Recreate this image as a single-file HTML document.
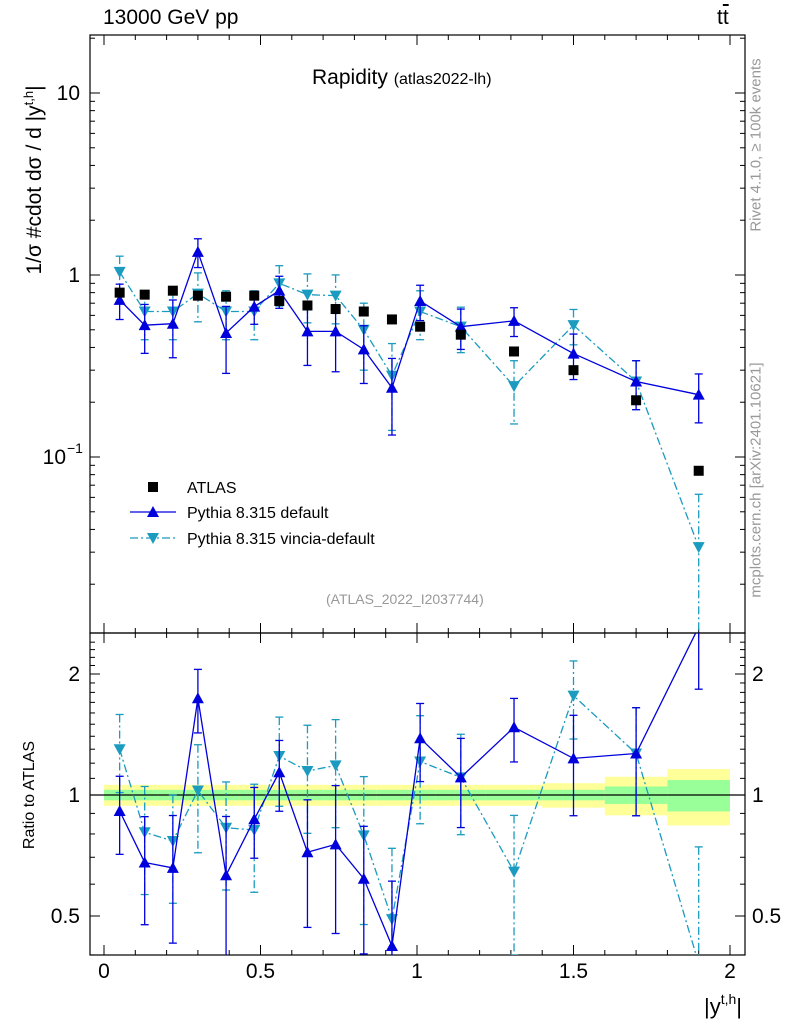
<!DOCTYPE html>
<html><head><meta charset="utf-8"><style>
html,body{margin:0;background:#fff;width:786px;height:1024px;overflow:hidden;}
svg{font-family:"Liberation Sans",sans-serif;display:block;}
</style></head><body>
<svg id="c" width="786" height="1024" viewBox="0 0 786 1024"></svg>
<script>
const xCenters=[0.05,0.13,0.22,0.30,0.39,0.48,0.56,0.65,0.74,0.83,0.92,1.01,1.14,1.31,1.50,1.70,1.90];
const binEdges=[0,0.09,0.17,0.26,0.35,0.43,0.52,0.61,0.70,0.78,0.87,0.96,1.06,1.22,1.40,1.60,1.80,2.0];
const atlasVals=[0.80,0.78,0.82,0.77,0.76,0.77,0.72,0.68,0.65,0.63,0.57,0.52,0.47,0.38,0.30,0.205,0.084];
const greenBand=[0.03,0.03,0.03,0.03,0.03,0.03,0.03,0.03,0.03,0.03,0.03,0.03,0.03,0.03,0.03,0.05,0.09];
const yellowBand=[0.06,0.06,0.06,0.06,0.06,0.06,0.06,0.06,0.06,0.06,0.06,0.06,0.06,0.06,0.07,0.11,0.16];
const defaultVals=[0.73,0.53,0.54,1.34,0.48,0.67,0.82,0.49,0.49,0.39,0.24,0.72,0.52,0.56,0.37,0.26,0.22];
const defaultErr=[0.22,0.30,0.35,0.18,0.40,0.20,0.20,0.35,0.40,0.35,0.45,0.22,0.25,0.18,0.28,0.30,0.30];
const vinciaVals=[1.04,0.63,0.63,0.79,0.63,0.63,0.90,0.78,0.77,0.50,0.28,0.63,0.52,0.245,0.53,0.26,0.032];
const vinciaErr=[0.22,0.30,0.30,0.30,0.30,0.30,0.25,0.30,0.30,0.40,0.50,0.30,0.28,0.38,0.22,0.30,0.95];
const xTicks=[0,0.5,1,1.5,2];

const S=document.getElementById('c');
const NS='http://www.w3.org/2000/svg';
function el(t,a,p){const e=document.createElementNS(NS,t);for(const k in a)e.setAttribute(k,a[k]);(p||S).appendChild(e);return e;}
const L=90,R=745,T=35,M=633,B=955;
const X=v=>104+v*313;
const Y=v=>275-182*Math.log10(v);
const YR=v=>795-121*Math.log2(v);

const defs=el('defs',{});
const c1=el('clipPath',{id:'cm'},defs);el('rect',{x:L,y:T,width:R-L,height:M-T},c1);
const c2=el('clipPath',{id:'cr'},defs);el('rect',{x:L,y:M,width:R-L,height:B-M},c2);

const gBands=el('g',{'clip-path':'url(#cr)'});


for(let i=0;i<xCenters.length;i++){
  const x0=X(binEdges[i]),x1=X(binEdges[i+1]);
  const ry=el('rect',{x:x0,y:YR(1+yellowBand[i]),width:x1-x0,height:YR(1-yellowBand[i])-YR(1+yellowBand[i]),fill:'#ffff99'},gBands);
  
  
  const rg=el('rect',{x:x0,y:YR(1+greenBand[i]),width:x1-x0,height:YR(1-greenBand[i])-YR(1+greenBand[i]),fill:'#99ff99'},gBands);
  
  
}
el('line',{x1:L,x2:R,y1:YR(1),y2:YR(1),stroke:'#000','stroke-width':1.2});

el('rect',{x:L,y:T,width:R-L,height:M-T,fill:'none',stroke:'#000','stroke-width':1.2});
el('rect',{x:L,y:M,width:R-L,height:B-M,fill:'none',stroke:'#000','stroke-width':1.2});

for(let v=0;v<=2.0001;v+=0.1){
  const big=Math.abs(v*2-Math.round(v*2))<1e-6;const len=big?10:5;const x=X(v);
  for(const [yb,yt] of [[M,T],[B,M]]){
    el('line',{x1:x,x2:x,y1:yb,y2:yb-len,stroke:'#000'});
    el('line',{x1:x,x2:x,y1:yt,y2:yt+len,stroke:'#000'});
  }
}
xTicks.forEach(v=>{const t=el('text',{x:X(v),y:978,'font-size':21,'text-anchor':'middle'});t.textContent=String(v);
});

for(let d=-2;d<=1;d++){for(let k=1;k<10;k++){const v=k*Math.pow(10,d);const y=Y(v);if(y<T||y>M)continue;
  const len=k==1?10:5;el('line',{x1:L,x2:L+len,y1:y,y2:y,stroke:'#000'});el('line',{x1:R,x2:R-len,y1:y,y2:y,stroke:'#000'});}}
let t=el('text',{x:80,y:100,'font-size':21,'text-anchor':'end'});t.textContent='10';
t=el('text',{x:80,y:282,'font-size':21,'text-anchor':'end'});t.textContent='1';
t=el('text',{x:66,y:464,'font-size':21,'text-anchor':'end'});t.textContent='10';
t=el('text',{x:67,y:453,'font-size':14});t.textContent='−1';

for(let v=0.4;v<=2.5;v+=0.1){const y=YR(v);if(y<M||y>B)continue;const big=[0.5,1,2].some(u=>Math.abs(u-v)<1e-6);const len=big?10:5;
  el('line',{x1:L,x2:L+len,y1:y,y2:y,stroke:'#000'});el('line',{x1:R,x2:R-len,y1:y,y2:y,stroke:'#000'});}
[[2,'2'],[1,'1'],[0.5,'0.5']].forEach(([v,s])=>{
  let a=el('text',{x:80,y:YR(v)+7,'font-size':21,'text-anchor':'end'});a.textContent=s;
  a=el('text',{x:752,y:YR(v)+7,'font-size':21});a.textContent=s;});

function series(vals,errs,color,dash,up,name,ratio){
  const g=el('g',{'clip-path':ratio?'url(#cr)':'url(#cm)'});
  
  
  const yf=ratio?(i=>YR(vals[i]/atlasVals[i])):(i=>Y(vals[i]));
  const yfv=ratio?(i,v)=>YR(v/atlasVals[i]):(i,v)=>Y(v);
  let d='';xCenters.forEach((x,i)=>{d+=(i?'L':'M')+X(x)+','+yf(i);});
  el('path',{d,fill:'none',stroke:color,'stroke-width':1.3,'stroke-dasharray':dash||'none'},g);
  xCenters.forEach((x,i)=>{const cx=X(x);const lo=Math.max(vals[i]*(1-errs[i]),1e-4),hi=vals[i]*(1+errs[i]);
    const y1=yfv(i,hi),y2=yfv(i,lo);
    el('line',{x1:cx,x2:cx,y1,y2,stroke:color,'stroke-width':1.3,'stroke-dasharray':dash||'none'},g);
    el('line',{x1:cx-4,x2:cx+4,y1,y2:y1,stroke:color,'stroke-width':1.3},g);
    el('line',{x1:cx-4,x2:cx+4,y1:y2,y2,stroke:color,'stroke-width':1.3},g);
    const cy=yf(i);const p=up?`${cx-6},${cy+5} ${cx+6},${cy+5} ${cx},${cy-6}`:`${cx-6},${cy-5} ${cx+6},${cy-5} ${cx},${cy+6}`;
    const m=el('polygon',{points:p,fill:color},g);
    
    
  });
}
series(vinciaVals,vinciaErr,'#1a9bbf','8,3,2,3',false,'vincia-series',false);
series(defaultVals,defaultErr,'#0000dd','',true,'default-series',false);
series(vinciaVals,vinciaErr,'#1a9bbf','8,3,2,3',false,'vincia-ratio',true);
series(defaultVals,defaultErr,'#0000dd','',true,'default-ratio',true);
const ga=el('g',{});


xCenters.forEach((x,i)=>{const r=el('rect',{x:X(x)-5,y:Y(atlasVals[i])-5,width:10,height:10,fill:'#000'},ga);
  
  });

function leg(y,color,dash,kind,label){
  if(kind=='sq')el('rect',{x:148,y:y-5,width:10,height:10,fill:'#000'});
  else{el('line',{x1:130,x2:176,y1:y,y2:y,stroke:color,'stroke-width':1.3,'stroke-dasharray':dash||'none'});
    const cx=153;el('polygon',{points:kind=='up'?`${cx-6},${y+5} ${cx+6},${y+5} ${cx},${y-6}`:`${cx-6},${y-5} ${cx+6},${y-5} ${cx},${y+6}`,fill:color});}
  const tt=el('text',{x:187,y:y+6,'font-size':16});tt.textContent=label;
  }
leg(487,'#000','','sq','ATLAS');
leg(512,'#0000dd','','up','Pythia 8.315 default');
leg(538,'#1a9bbf','8,3,2,3','down','Pythia 8.315 vincia-default');

const xt=el('text',{x:742,y:1014,'font-size':22,'text-anchor':'end'});


xt.innerHTML='|y<tspan font-size="14" dy="-10">t,h</tspan><tspan dy="10">|</tspan>';
</script>
<div style="position:absolute;left:0;top:0;width:786px;height:1024px;overflow:hidden;font-family:'Liberation Sans',sans-serif;pointer-events:none">
<div style="position:absolute;left:103px;top:6px;font-size:21px">13000 GeV pp</div>
<div style="position:absolute;left:717px;top:6px;font-size:21px">t<span style="text-decoration:overline">t</span></div>
<div style="position:absolute;left:312px;top:66px;font-size:21px">Rapidity <span style="font-size:16px">(atlas2022-lh)</span></div>
<div style="position:absolute;left:326px;top:591px;font-size:14px;color:#999">(ATLAS_2022_I2037744)</div>
<div style="position:absolute;left:34px;top:180px;font-size:21px;white-space:nowrap;transform:translate(-50%,-50%) rotate(-90deg)">1/σ #cdot dσ / d |y<sup style="font-size:13px">t,h</sup>|</div>
<div style="position:absolute;left:30px;top:795px;font-size:16px;white-space:nowrap;transform:translate(-50%,-50%) rotate(-90deg)">Ratio to ATLAS</div>
<div style="position:absolute;left:756px;top:145px;font-size:15px;color:#999;white-space:nowrap;transform:translate(-50%,-50%) rotate(-90deg)">Rivet 4.1.0, ≥ 100k events</div>
<div style="position:absolute;left:756px;top:480px;font-size:15px;color:#999;white-space:nowrap;transform:translate(-50%,-50%) rotate(-90deg)">mcplots.cern.ch [arXiv:2401.10621]</div>
</div>
</body></html>
